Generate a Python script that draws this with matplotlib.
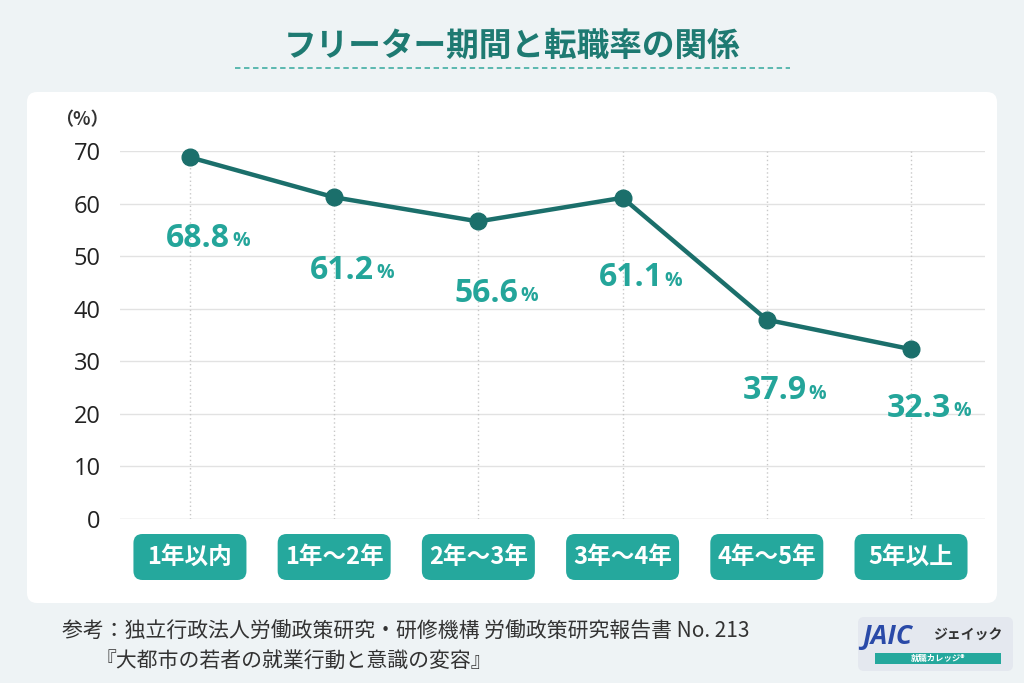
import matplotlib
matplotlib.use("Agg")
import matplotlib.pyplot as plt
from matplotlib.patches import FancyBboxPatch, Rectangle
from matplotlib.transforms import IdentityTransform
from matplotlib.lines import Line2D

plt.rcParams['font.family'] = ['Noto Sans CJK JP', 'DejaVu Sans']

# ---- data ----
categories = ["1年以内", "1年～2年", "2年～3年", "3年～4年", "4年～5年", "5年以上"]
rates = [68.8, 61.2, 56.6, 61.1, 37.9, 32.3]
yticks = [0, 10, 20, 30, 40, 50, 60, 70]
title = "フリーター期間と転職率の関係"
source_line1 = "参考：独立行政法人労働政策研究・研修機構 労働政策研究報告書 No. 213"
source_line2 = "『大都市の若者の就業行動と意識の変容』"
# label offsets below points (pixels) - styling
label_dy = [81, 73, 72, 80, 71, 59]

W, H = 1024, 683
BG = "#eef3f5"
DARK_TEAL = "#1b6f6b"
LABEL_TEAL = "#24a59a"
BOX_TEAL = "#25a89d"
TITLE_TEAL = "#1e7a72"
NUMFONT = ['Open Sans', 'DejaVu Sans']

fig = plt.figure(figsize=(W / 100, H / 100), dpi=100)
fig.patch.set_facecolor(BG)
idt = IdentityTransform()

def px(x, y):
    return x, H - y

# white panel
fig.patches.append(FancyBboxPatch(px(27, 603), 970, 511,
                                  boxstyle="round,pad=0,rounding_size=10",
                                  transform=idt, facecolor="white",
                                  edgecolor="none", zorder=-5))

ax = fig.add_axes([120 / W, (H - 519) / H, (985 - 120) / W, (519 - 151) / H])
ax.set_zorder(1)
ax.set_facecolor("none")
x = list(range(len(categories)))
ax.set_xlim(-0.485, 5.513)
ax.set_ylim(0, 70)
ax.set_yticks(yticks)
ax.set_yticklabels([str(v) for v in yticks], fontsize=17, color="#222222",
                   family=NUMFONT)
ax.tick_params(axis='y', length=0, pad=14)
ax.set_xticks([])
for s in ax.spines.values():
    s.set_visible(False)
for v in yticks:
    ax.axhline(v, color="#e2e2e2" if v else "#cfcfcf", lw=1, zorder=1)
for xi in x:
    ax.axvline(xi, color="#c8c8c8", lw=1, ls=(0, (1, 2)), zorder=1)

ax.plot(x, rates, color=DARK_TEAL, lw=3.2, marker='o', ms=12,
        markerfacecolor=DARK_TEAL, markeredgecolor=DARK_TEAL, zorder=3,
        clip_on=False)

pt = 72 / 100
for xi, v, dy in zip(x, rates, label_dy):
    ax.annotate(f"{v:.1f}", (xi, v), xytext=(40 * pt, -dy * pt),
                textcoords="offset points", ha="right", va="center",
                fontsize=23, fontweight="bold", color=LABEL_TEAL,
                family=NUMFONT)
    ax.annotate("%", (xi, v), xytext=(42 * pt, -(dy + 3) * pt),
                textcoords="offset points", ha="left", va="center",
                fontsize=14, fontweight="bold", color=LABEL_TEAL,
                family=NUMFONT)

fig.text(82 / W, 1 - 120 / H, "（%）", ha="center", va="center",
         fontsize=13, color="#333333", fontweight="bold")

# category boxes
fig.canvas.draw()
for xi, lab in zip(x, categories):
    cx = ax.transData.transform((xi, 0))[0]
    bw, bh = 113, 46
    cy = H - 557
    fig.patches.append(FancyBboxPatch((cx - bw / 2, cy - bh / 2), bw, bh,
                                      boxstyle="round,pad=0,rounding_size=9",
                                      transform=idt, facecolor=BOX_TEAL,
                                      edgecolor="none", zorder=2))
    fig.text(cx / W, cy / H, lab, ha="center", va="center", fontsize=17,
             fontweight="bold", color="white", zorder=3)

# title
fig.text(512 / W, 1 - 46 / H, title, ha="center", va="center", fontsize=23.5,
         fontweight="bold", color=TITLE_TEAL)
fig.lines.append(Line2D([235, 790], [H - 68, H - 68], transform=idt,
                        color="#4fb3aa", lw=1.3, ls=(0, (3, 2))))

# source
fig.text(62 / W, 1 - 632 / H, source_line1, ha="left", va="center",
         fontsize=15, color="#333333")
fig.text(96 / W, 1 - 661 / H, source_line2, ha="left", va="center",
         fontsize=15, color="#333333")

# logo
fig.patches.append(FancyBboxPatch(px(858, 671), 155, 54,
                                  boxstyle="round,pad=0,rounding_size=6",
                                  transform=idt, facecolor="#e4e8ef",
                                  edgecolor="none"))
fig.text(862 / W, 1 - 637 / H, "JAIC", ha="left", va="center", fontsize=19,
         fontweight="bold", style="italic", color="#2a4aa8", family=NUMFONT)
fig.text(968 / W, 1 - 636 / H, "ジェイック", ha="center", va="center",
         fontsize=10, fontweight="bold", color="#333333")
fig.patches.append(Rectangle(px(875, 664), 126, 11, transform=idt,
                             facecolor="#25a89d", edgecolor="none"))
fig.text(938 / W, 1 - 658 / H, "就職カレッジ®", ha="center", va="center",
         fontsize=6, fontweight="bold", color="white")

fig.savefig("out.png", dpi=100, facecolor=BG)
